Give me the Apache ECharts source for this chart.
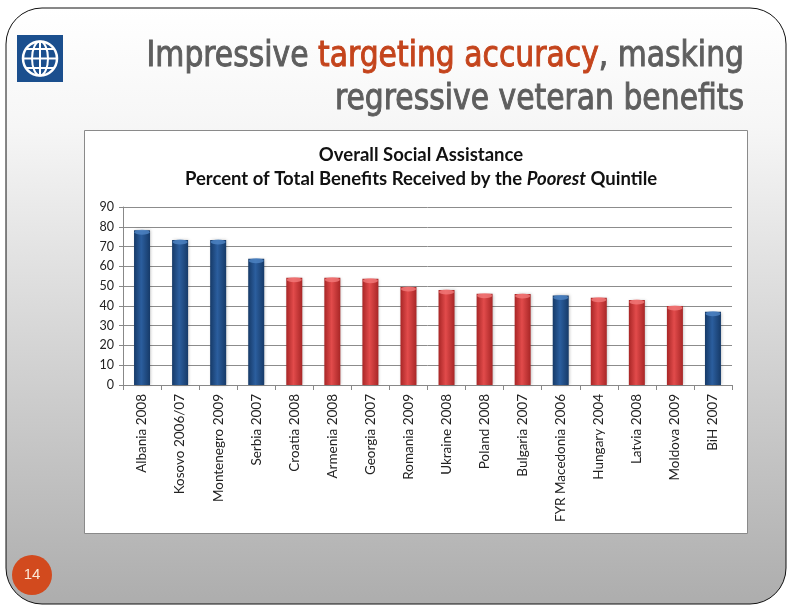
<!DOCTYPE html>
<html><head><meta charset="utf-8">
<script src="https://cdn.jsdelivr.net/npm/echarts@6/dist/echarts.min.js"></script>
<style>html,body{margin:0;padding:0;background:#fff}#c{width:792px;height:612px}</style>
</head><body><div id="c"></div>
<script>
var categories = ["Albania 2008","Kosovo 2006/07","Montenegro 2009","Serbia 2007","Croatia 2008","Armenia 2008","Georgia 2007","Romania 2009","Ukraine 2008","Poland 2008","Bulgaria 2007","FYR Macedonia 2006","Hungary 2004","Latvia 2008","Moldova 2009","BiH 2007"];
var values = [78.3, 73.3, 73.3, 63.8, 54.2, 54.2, 53.7, 49.6, 48.0, 46.2, 46.0, 45.3, 44.1, 43.0, 40.0, 37.0];
var barGroup = ["blue","blue","blue","blue","red","red","red","red","red","red","red","blue","red","red","red","blue"];
var yTicks = [0,10,20,30,40,50,60,70,80,90];

function grad(c1, c2) {
  return new echarts.graphic.LinearGradient(0,0,1,0,[
    {offset:0,color:c1},{offset:0.45,color:c2},{offset:1,color:c1}]);
}
var styles = {
  blue: {color: grad('#163a68','#2b5e9e'), cap:'#4f84c4'},
  red: {color: grad('#a82626','#e24b4b'), cap:'#f27a7a'}
};
var data = values.map(function(v,i){ return {value:v, itemStyle:{color: styles[barGroup[i]].color, shadowColor:'rgba(0,0,0,0.25)', shadowBlur:3, shadowOffsetX:1}}; });
var caps = values.map(function(v,i){ return {value:v, itemStyle:{color: styles[barGroup[i]].cap}}; });

var chart = echarts.init(document.getElementById('c'), null, {renderer:'canvas'});
var titleFont = '"Liberation Sans Narrow","DejaVu Sans Condensed","Roboto Condensed","Open Sans",sans-serif';
var lato = 'Lato, "Open Sans", sans-serif';
chart.setOption({
  animation:false,
  backgroundColor:'#ffffff',
  graphic:[
    {type:'rect', z:-20, shape:{x:6,y:8,width:780,height:596,r:36},
     style:{fill:new echarts.graphic.LinearGradient(0,0,0,1,[{offset:0,color:'#ffffff'},{offset:0.2,color:'#f6f6f6'},{offset:1,color:'#adadad'}]), stroke:'#111', lineWidth:1}},
    {type:'rect', z:-15, shape:{x:84.5,y:130.5,width:663,height:403},
     style:{fill:'#ffffff', stroke:'#8a8a8a', lineWidth:1}},
    {type:'rect', z:-10, shape:{x:17,y:35,width:46,height:47}, style:{fill:'#1b4f8e'}},
    {type:'circle', z:-9, shape:{cx:40,cy:58.5,r:17}, style:{fill:'none',stroke:'#fff',lineWidth:2.5}},
    {type:'ellipse', z:-9, shape:{cx:40,cy:58.5,rx:8,ry:17}, style:{fill:'none',stroke:'#fff',lineWidth:2}},
    {type:'line', z:-9, shape:{x1:40,y1:41.5,x2:40,y2:75.5}, style:{stroke:'#fff',lineWidth:2}},
    {type:'line', z:-9, shape:{x1:23,y1:58.5,x2:57,y2:58.5}, style:{stroke:'#fff',lineWidth:2}},
    {type:'line', z:-9, shape:{x1:26,y1:49,x2:54,y2:49}, style:{stroke:'#fff',lineWidth:2}},
    {type:'line', z:-9, shape:{x1:26,y1:68,x2:54,y2:68}, style:{stroke:'#fff',lineWidth:2}},
    {type:'text', z:5, x:744, y:39, scaleX:0.975, scaleY:1.03, style:{
      text:'{g|Impressive }{o|targeting accuracy}{g|, masking}', align:'right',
      rich:{g:{fontFamily:titleFont,fontSize:34,fill:'#5e5e5e',stroke:'#5e5e5e',lineWidth:0.9},
            o:{fontFamily:titleFont,fontSize:34,fill:'#c4441c',stroke:'#c4441c',lineWidth:0.9}}}},
    {type:'text', z:5, x:744, y:82, scaleX:0.975, scaleY:1.03, style:{
      text:'regressive veteran benefits', align:'right', fontFamily:titleFont, fontSize:34, fill:'#5e5e5e', stroke:'#5e5e5e', lineWidth:0.9}},
    {type:'circle', z:5, shape:{cx:32,cy:575,r:20}, style:{fill:'#d24a1e'}},
    {type:'text', z:6, x:32, y:575, style:{text:'14', align:'center', verticalAlign:'middle', fontSize:15, fontFamily:'"Liberation Sans",sans-serif', fill:'#fbe9d8'}}
  ],
  title:[
    {text:'Overall Social Assistance', left:416, top:141, textAlign:'center',
     textStyle:{fontFamily:lato, fontWeight:'bold', fontSize:18.5, color:'#111'}},
    {text:'{n|Percent of Total Benefits Received by the }{i|Poorest}{n| Quintile}', left:416, top:165, textAlign:'center',
     textStyle:{rich:{n:{fontFamily:lato, fontWeight:'bold', fontSize:18.5, color:'#111'},
                      i:{fontFamily:lato, fontWeight:'bold', fontStyle:'italic', fontSize:18.5, color:'#111'}}}}
  ],
  grid:{left:123, right:60, top:207, bottom:227, containLabel:false},
  xAxis:{type:'category', data:categories,
    axisLine:{lineStyle:{color:'#888',width:1}},
    axisTick:{show:true, length:5, lineStyle:{color:'#888'}},
    axisLabel:{rotate:90, interval:0, margin:9, fontSize:13.5, color:'#222', fontFamily:lato}},
  yAxis:{type:'value', min:0, max:90, interval:10,
    axisLine:{show:true, lineStyle:{color:'#888'}},
    axisTick:{show:true, length:4, lineStyle:{color:'#888'}},
    splitLine:{lineStyle:{color:'#8c8c8c', width:1}},
    axisLabel:{fontSize:12.5, color:'#222', margin:9, fontFamily:lato,
      formatter:function(v){ return yTicks.indexOf(v)>=0 ? String(v) : ''; }}},
  series:[
    {type:'bar', data:data, barWidth:16, z:2},
    {type:'scatter', data:caps, symbol:'circle', symbolSize:[15,5], symbolOffset:[0,2], z:3, silent:true}
  ]
});
</script>
</body></html>
